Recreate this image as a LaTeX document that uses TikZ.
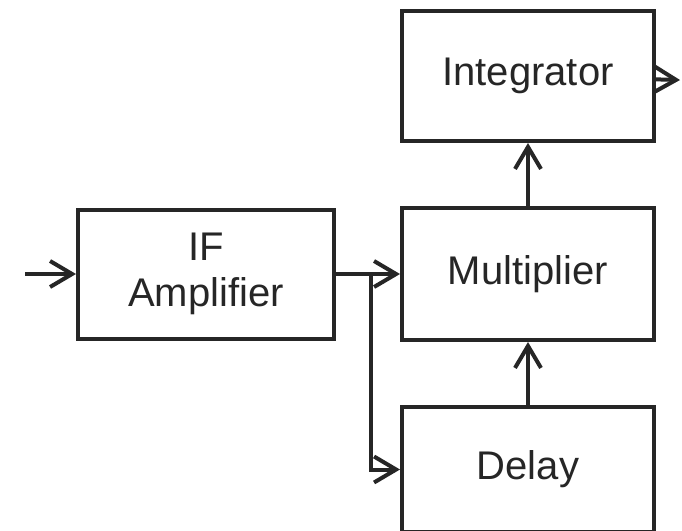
\documentclass[tikz,border=0pt]{standalone}
\usepackage{fontspec}
\setmainfont{Liberation Sans}
\usetikzlibrary{arrows.meta,positioning,calc}
\tikzset{
  box/.style={draw=black!85, line width=2pt, align=center, text=black!85,
              font=\fontsize{20}{23}\selectfont, inner sep=4pt,
              minimum width=126pt, minimum height=65pt},
  flow/.style={-{Straight Barb[length=11pt,width=13pt]}, line width=2pt, draw=black!85},
}

\begin{document}
\begin{tikzpicture}[node distance=31.5pt and 32pt]
  \useasboundingbox[fill=white] (0,0) rectangle (341pt,-265.5pt);
  \node[box, minimum width=128pt, minimum height=64.5pt] (amp) at (103pt,-137pt)
    {IF\\Amplifier};
  \node[box, minimum height=66pt, right=of amp] (mult) {Multiplier};
  \node[box, above=of mult] (integ) {Integrator};
  \node[box, minimum height=62.5pt, below=of mult] (delay) {Delay};
  \coordinate (in) at (12.5pt,-137pt);
  \coordinate (out) at (340pt,-40pt);
  \coordinate (split) at ($(amp.east)+(17.5pt,0)$);
  \draw[flow] (in) -- (amp);
  \draw[flow] (amp) -- (mult);
  \draw[flow] (split) |- (delay);
  \draw[flow] (delay) -- (mult);
  \draw[flow] (mult) -- (integ);
  \draw[flow] (integ) -- (out);
\end{tikzpicture}
\end{document}
